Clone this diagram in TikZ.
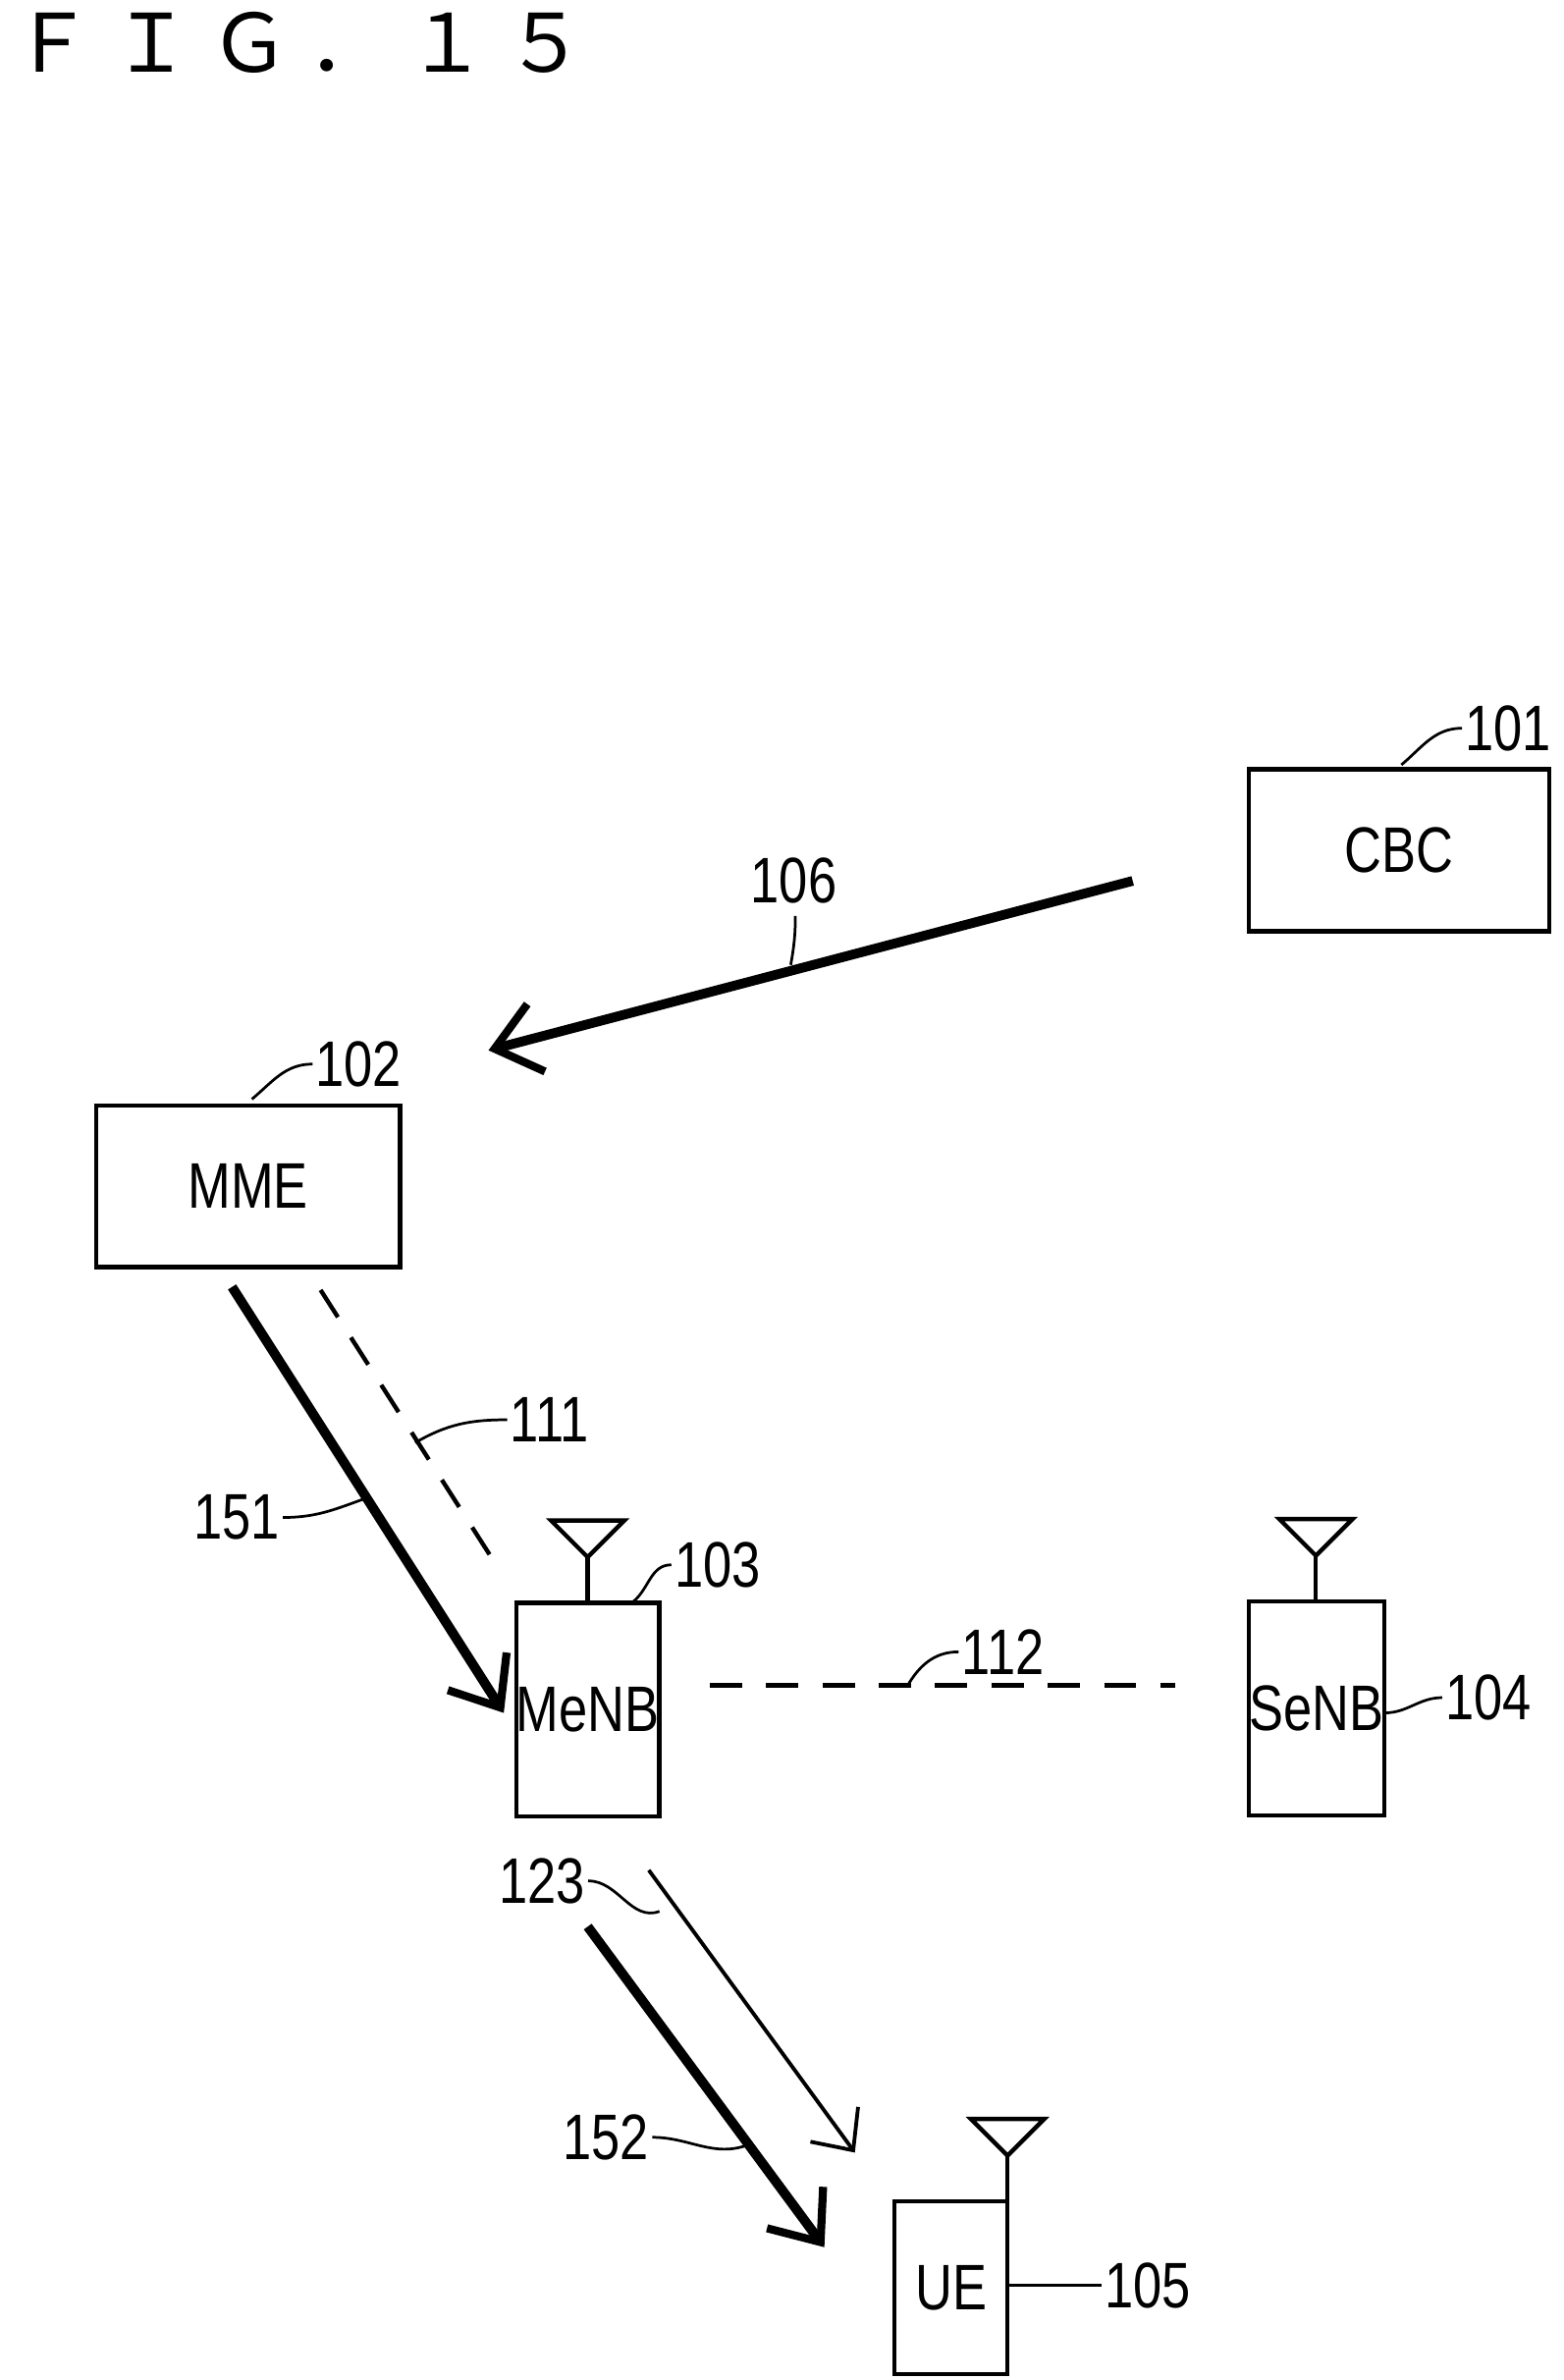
\documentclass[tikz,border=0pt]{standalone}
\usepackage{fontspec}
\setmainfont{Liberation Sans}
\newfontfamily\cjk{Noto Sans CJK JP}
\usetikzlibrary{arrows.meta}
\newcommand{\narrow}[1]{\scalebox{0.8}[1]{#1}}
\tikzset{
  font={\fontsize{24pt}{28}\selectfont},
  box/.style={draw, line width=1.6pt, inner sep=0pt},
  lbl/.style={inner sep=1pt},
  lead/.style={line width=1pt},
  thick arr/.style={line width=3.6pt, -{Straight Barb[length=16pt,width=26pt,line width=3pt]}},
  thin arr/.style={line width=1.4pt, -{Straight Barb[length=12pt,width=22pt,line width=1.4pt]}},
  dashline/.style={line width=1.6pt, dash pattern=on 12pt off 9pt}}

\newcommand{\antenna}[2]{%
  \draw[line width=1.6pt] (#1,#2) -- (#1,#2-30);
  \draw[line width=1.6pt] (#1-24,#2-54) -- (#1+24,#2-54) -- (#1,#2-30) -- cycle;}

\begin{document}
\begin{tikzpicture}[x=0.02cm,y=-0.02cm]
\useasboundingbox (0,0) rectangle (1024,1559);
\node[anchor=west, inner sep=0pt] (title) at (8,28) {\cjk\fontsize{30pt}{32}\selectfont Ｆ Ｉ Ｇ ． １ ５};
% boxes
\node[box, minimum width=3.94cm, minimum height=2.12cm] (cbc) at (916.5,557) {\narrow{CBC}};
\node[box, minimum width=3.98cm, minimum height=2.12cm] (mme) at (162.5,777) {\narrow{MME}};
\node[box, minimum width=1.8cm, minimum height=2.8cm] (menb) at (385,1120) {\narrow{MeNB}};
\node[box, minimum width=1.78cm, minimum height=2.8cm] (senb) at (862.5,1119) {\narrow{SeNB}};
\node[box, minimum width=1.48cm, minimum height=2.26cm] (ue) at (623,1498.5) {\narrow{UE}};
\antenna{385}{1050}
\antenna{862}{1049}
\antenna{660}{1442}
% numbers
\node[lbl] (n101) at (988,477) {\narrow{101}};
\node[lbl] (n102) at (235,697) {\narrow{102}};
\node[lbl] (n103) at (470,1025) {\narrow{103}};
\node[lbl] (n104) at (975,1112) {\narrow{104}};
\node[lbl] (n105) at (752,1497) {\narrow{105}};
\node[lbl] (n106) at (520,577) {\narrow{106}};
\node[lbl] (n111) at (360,930) {\narrow{111}};
\node[lbl] (n112) at (657,1082) {\narrow{112}};
\node[lbl] (n123) at (355,1232) {\narrow{123}};
\node[lbl] (n151) at (155,994) {\narrow{151}};
\node[lbl] (n152) at (397,1400) {\narrow{152}};
% connectors
\coordinate (c106a) at (742,577);
\coordinate (c106b) at (320,688);
\draw[thick arr] (c106a) -- (c106b);
\coordinate (c151a) at (152,843);
\coordinate (c151b) at (330,1122);
\draw[thick arr] (c151a) -- (c151b);
\coordinate (c111a) at (210,845);
\coordinate (c111b) at (325,1025);
\draw[dashline] (c111a) -- (c111b);
\coordinate (c112a) at (465,1104);
\coordinate (c112b) at (770,1104);
\draw[dashline] (c112a) -- (c112b);
\coordinate (c123a) at (425,1225);
\coordinate (c123b) at (560,1410);
\draw[thin arr] (c123a) -- (c123b);
\coordinate (c152a) at (385,1262);
\coordinate (c152b) at (540,1472);
\draw[thick arr] (c152a) -- (c152b);
% leaders
\draw[lead] (918,501) to[out=40,in=180] (n101.west);
\draw[lead] (165,720) to[out=40,in=180] (n102.west);
\draw[lead] (415,1049) to[out=40,in=180] (n103.west);
\draw[lead] (907,1122) to[out=0,in=180] (n104.west);
\draw[lead] (660,1497) to[out=0,in=180] (n105.west);
\draw[lead] (518,632) to[out=80,in=-90] (521,600);
\draw[lead] (272,945) to[out=30,in=180] (n111.west);
\draw[lead] (594,1105) to[out=60,in=180] (n112.west);
\draw[lead] (n123.east) to[out=0,in=200] (432,1252);
\draw[lead] (n151.east) to[out=0,in=200] (238,982);
\draw[lead] (n152.east) to[out=0,in=200] (490,1405);
\end{tikzpicture}
\end{document}
